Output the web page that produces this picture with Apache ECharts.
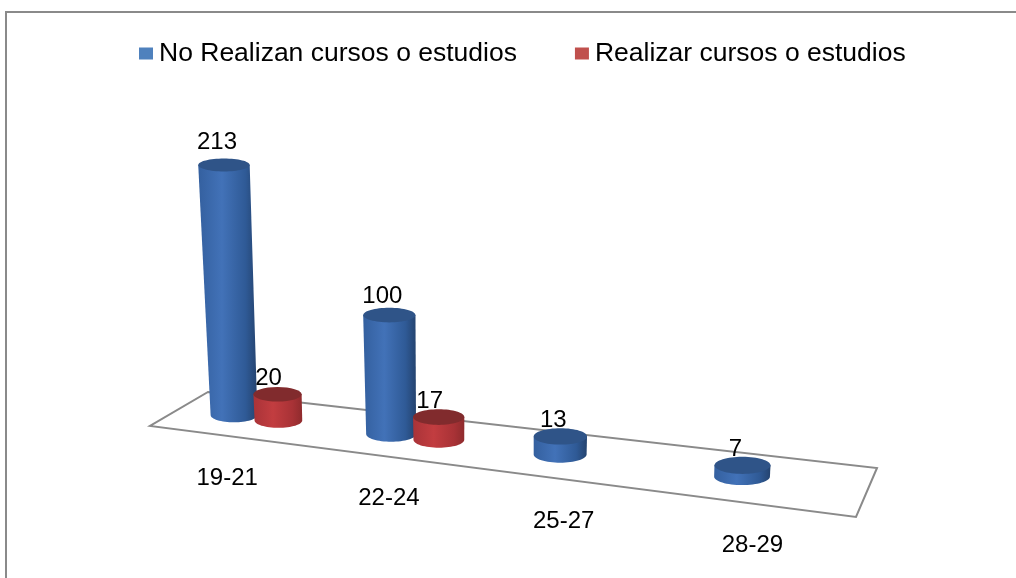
<!DOCTYPE html>
<html>
<head>
<meta charset="utf-8">
<style>html,body{margin:0;padding:0;background:#fff}#c{width:1016px;height:578px;filter:blur(0.4px)}</style>
<script src="https://cdn.jsdelivr.net/npm/echarts@6/dist/echarts.min.js"></script>
</head>
<body>
<div id="c"></div>
<script>
const categories = ['19-21', '22-24', '25-27', '28-29'];
const noRealizan = [213, 100, 13, 7];
const realizar = [20, 17, null, null];
const seriesNames = ['No Realizan cursos o estudios', 'Realizar cursos o estudios'];

const FONT = '24px "Liberation Sans", Arial, sans-serif';
const GRID = {left: 100, top: 100, width: 800, height: 290};

// Perspective of the floor plane: unit square (u along, w depth) to screen
const C = {bl: [208, 392], br: [877, 468], fr: [856, 517], fl: [150, 426]};
const H = (function () {
  const [x0, y0] = C.bl, [x1, y1] = C.br, [x2, y2] = C.fr, [x3, y3] = C.fl;
  const dx1 = x1 - x2, dx2 = x3 - x2, sx = x0 - x1 + x2 - x3;
  const dy1 = y1 - y2, dy2 = y3 - y2, sy = y0 - y1 + y2 - y3;
  const det = dx1 * dy2 - dx2 * dy1;
  const g = (sx * dy2 - dx2 * sy) / det, h = (dx1 * sy - sx * dy1) / det;
  return {a: x1 - x0 + g * x1, b: x3 - x0 + h * x3, c: x0, d: y1 - y0 + g * y1, e: y3 - y0 + h * y3, f: y0, g, h};
})();
function floorPt(u, w) {
  const q = 1 + H.g * u + H.h * w;
  return [(H.a * u + H.b * w + H.c) / q, (H.d * u + H.e * w + H.f) / q];
}
function uOf(api, i) {
  return (api.coord([i, 0])[0] - GRID.left) / GRID.width;
}
// the category bands bunch slightly towards the middle of the floor
function warp(u) {
  return u + 0.00726 - 0.0807 * (u - 0.5) * (u - 0.5);
}

function ellipseArc(cx, cy, rx, ry, from, to, n) {
  const pts = [];
  for (let k = 0; k <= n; k++) {
    const t = from + (to - from) * k / n;
    pts.push([cx + rx * Math.cos(t), cy + ry * Math.sin(t)]);
  }
  return pts;
}

function cylinder(uOffset, palette, labelDx) {
  return function (params, api) {
    const v = api.value(1);
    if (v == null || isNaN(v)) return null;
    const i = api.value(0);
    const u = warp(uOf(api, i) + uOffset);
    const base = floorPt(u, 0.5);
    const h = api.coord([i, 0])[1] - api.coord([i, v])[1] + 3;
    const rxB = 22.8 + 6 * u;
    const rxT = rxB * (1 + h * 0.0004);
    const ryB = 0.31 * rxB;
    const ryT = 0.31 * rxT - 0.006 * h;
    const topX = base[0] + (base[0] - 485) * h * 0.00016;
    const topY = base[1] - h;
    const bodyPts = [[topX - rxT, topY]]
      .concat(ellipseArc(base[0], base[1], rxB, ryB, Math.PI, 0, 32))
      .concat([[topX + rxT, topY]]);
    return {
      type: 'group',
      children: [
        {
          type: 'polygon',
          shape: {points: bodyPts},
          style: {fill: new echarts.graphic.LinearGradient(0, 0, 1, 0, palette.body)}
        },
        {
          type: 'ellipse',
          shape: {cx: topX, cy: topY, rx: rxT, ry: ryT},
          style: {fill: palette.top}
        },
        {
          type: 'text',
          style: {
            text: String(v),
            x: topX + labelDx,
            y: topY - (15.5 + h * 0.027),
            font: FONT,
            fill: '#000',
            align: 'center',
            verticalAlign: 'middle'
          }
        }
      ]
    };
  };
}

const BLUE = {
  top: '#2f5488',
  body: [
    {offset: 0, color: '#34609f'}, {offset: 0.4, color: '#4272b8'},
    {offset: 0.8, color: '#2f5a96'}, {offset: 1, color: '#24436f'}
  ]
};
const RED = {
  top: '#812b2d',
  body: [
    {offset: 0, color: '#a93338'}, {offset: 0.4, color: '#c23d40'},
    {offset: 0.8, color: '#a83236'}, {offset: 1, color: '#8f2b2d'}
  ]
};

const chart = echarts.init(document.getElementById('c'), null, {renderer: 'canvas'});
chart.setOption({
  animation: false,
  backgroundColor: '#fff',
  grid: GRID,
  xAxis: {type: 'category', data: categories, show: false},
  yAxis: {type: 'value', min: 0, max: 250, show: false},
  legend: {
    left: 134, top: 35,
    itemWidth: 14, itemHeight: 12, itemGap: 58,
    icon: 'rect',
    data: seriesNames,
    selectedMode: false,
    textStyle: {fontFamily: '"Liberation Sans", Arial, sans-serif', fontSize: 26.5, color: '#000', padding: [0, 0, 0, 1]}
  },
  graphic: [{
    type: 'polyline',
    silent: true,
    shape: {points: [[6, 590], [6, 12], [1030, 12]]},
    style: {stroke: '#8a8a8a', lineWidth: 2, fill: 'none'}
  }],
  series: [
    {
      type: 'custom', name: 'floor', silent: true,
      data: categories.map((c, i) => [i, 0]),
      renderItem(params, api) {
        const i = api.value(0);
        const front = floorPt(warp(uOf(api, i)), 1);
        const children = [{
          type: 'text',
          style: {
            text: categories[i], x: front[0] + 8, y: front[1] + 43, font: FONT,
            fill: '#000', align: 'center', verticalAlign: 'middle'
          }
        }];
        if (i === 0) {
          children.unshift({
            type: 'polygon',
            shape: {points: [floorPt(0, 0), floorPt(1, 0), floorPt(1, 1), floorPt(0, 1)]},
            style: {fill: 'none', stroke: '#8a8a8a', lineWidth: 2}
          });
        }
        return {type: 'group', children};
      }
    },
    {
      type: 'custom', name: seriesNames[0], silent: true,
      itemStyle: {color: '#4f81bd'},
      data: noRealizan.map((v, i) => [i, v]),
      renderItem: cylinder(-0.0225, BLUE, -7)
    },
    {
      type: 'custom', name: seriesNames[1], silent: true,
      itemStyle: {color: '#c0504d'},
      data: realizar.map((v, i) => [i, v]),
      renderItem: cylinder(0.05, RED, -9)
    }
  ]
});
</script>
</body>
</html>
